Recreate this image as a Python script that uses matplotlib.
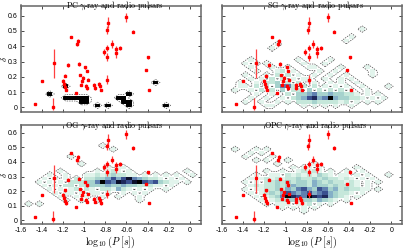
import numpy as np
import matplotlib
matplotlib.use('Agg')
import matplotlib.pyplot as plt
from matplotlib.colors import LinearSegmentedColormap, ListedColormap, Normalize
from matplotlib.ticker import FuncFormatter

plt.rcParams['mathtext.fontset'] = 'cm'
plt.rcParams['font.family'] = ['Liberation Sans', 'DejaVu Sans']

# observed gamma-ray + radio pulsars: log10(P), delta, lower / upper error
logp = [-1.469, -1.400, -1.297, -1.281, -1.200, -1.184, -1.191, -1.181, -1.172,
        -1.156, -1.122, -1.066, -1.056, -1.050, -1.038, -1.031, -1.078, -1.022,
        -1.009, -0.988, -0.972, -0.984, -0.975, -0.963, -0.903, -0.897, -0.863,
        -0.853, -0.844, -0.816, -0.787, -0.778, -0.781, -0.781, -0.781, -0.741,
        -0.703, -0.697, -0.663, -0.600, -0.541, -0.416, -0.394, -0.384]
delta = [0.020, 0.174, 0.005, 0.289, 0.174, 0.207, 0.154, 0.133, 0.115,
         0.278, 0.461, 0.415, 0.433, 0.285, 0.211, 0.148, 0.091, 0.172,
         0.193, 0.261, 0.239, 0.141, 0.126, 0.180, 0.148, 0.128, 0.152,
         0.137, 0.115, 0.365, 0.507, 0.554, 0.387, 0.328, 0.180, 0.415,
         0.354, 0.380, 0.387, 0.589, 0.496, 0.246, 0.328, 0.115]
err_lo = [0.005, 0.005, 0.020, 0.100, 0.010, 0.010, 0.015, 0.010, 0.010,
          0.012, 0.008, 0.015, 0.015, 0.012, 0.005, 0.010, 0.005, 0.010,
          0.010, 0.008, 0.008, 0.010, 0.010, 0.010, 0.012, 0.012, 0.012,
          0.012, 0.008, 0.020, 0.025, 0.035, 0.020, 0.025, 0.030, 0.025,
          0.030, 0.020, 0.012, 0.030, 0.012, 0.005, 0.010, 0.005]
err_hi = [0.005, 0.005, 0.055, 0.090, 0.010, 0.010, 0.015, 0.010, 0.010,
          0.012, 0.008, 0.015, 0.015, 0.012, 0.005, 0.010, 0.005, 0.010,
          0.010, 0.008, 0.008, 0.010, 0.010, 0.010, 0.012, 0.012, 0.012,
          0.012, 0.008, 0.020, 0.025, 0.035, 0.020, 0.025, 0.030, 0.025,
          0.030, 0.020, 0.012, 0.030, 0.012, 0.005, 0.010, 0.005]

# simulated population histograms, bins of 0.05 in log10(P) starting at -1.6
# and 0.025 in delta starting at 0. rows listed from top (high delta) to bottom,
# '.' = empty bin, digit = relative density level
pc_rows = [
    "..... ..... ..... ..... ..... 1.... ....",
    "..... ...1. ..... ..... ..... ..... ....",
    "..... ..... ..... ..... ..... ..... ....",
    "..... 1.... ..... ..... 1.... ..... ....",
    "..... ...11 111.. ...11 ..... ..... ....",
    "..... ..... .11.. ....1 1.... ..... ....",
    "..... ..... ....1 .1... 1.... ..1.. ....",
]

sg_rows = [
    "..... ..... ..... ..... ..... ..... ....",
    "..... ..... ..... ..... ..... .1... ....",
    "..... ..... ..... ..... ..... ..... ....",
    "..... ..... ..... ..... ....1 ..... ....",
    "..... ..... ..... ..... ...1. ..... ....",
    "..... ..... 1.... ..... ..... ..... ....",
    "..... ....1 ..... ..... ..... ..... ....",
    "..... ..... ..... ..... ..... ..... ....",
    "..... ..... ..... ..... ..... ..... ....",
    "..... 1.... ....1 ..... 1.... ..... ....",
    "....1 .1.1. ..... 1...1 ..... ..... ....",
    "..... 1...1 ..1.. .11.. ..1.. ..1.. ....",
    "..... .1... 12.1. ...1. .1... ...1. ....",
    "....1 ...1. 2.2.1 ..1.. 1..1. ...1. ....",
    "..... 1.1.2 .2.1. 11..1 ..1.1 ..... ....",
    "...1. .1.22 3.2.2 ..1.. 1.1.. 1.... ....",
    "...11 .2.2. 3552. 2.2.1 .1.1. .1... .1..",
    "..1.. 1.2.2 .3.22 .3.2. 2.2.1 ..1.. ....",
    "..... .1..1 ..2.3 34533 43322 1.1.1 ....",
    "..... 1..1. .1.23 46745 94332 21.1. 1...",
    "....1 ..1.. 1.1.2 22322 2212. 1.1.1 ....",
    "..... ...11 ..... 1.1.1 .1..1 ..... ....",
]

og_rows = [
    "..... ..... ..... 1.... ..... ..... ....",
    "..... ..... ..... ..1.. ..... ..... ....",
    "..... ..... ..... ..... ..... ..... ....",
    "..... ....1 ..... ..... ..... ..... ....",
    "..... ..... ..... ..... ..... ..... ....",
    "..... ..... .1... ..... ..... ..... ....",
    "..... ..... ..... .1.11 ..... ..... ....",
    "..... ..1.. ....1 .121. 1.... ..... .1..",
    "..... 1..1. ..112 12322 11.1. 1.1.1 ..1.",
    "....1 .1.1. 2.223 34646 85432 21.1. 1...",
    "...1. 1.1.2 22335 96587 68965 63211 .1..",
    "....1 .1.22 .2233 34334 33222 11.1. ....",
    "..... 1.1.1 2.21. 22142 1.1.1 ..1.. ....",
    "..... .1.11 .1.11 .1..1 .1.1. ..... ....",
    "..... ..1.. 1.1.. 1..1. ..1.. ..... ....",
    "..... ...1. .1..1 ..... ..1.. ..... ....",
    ".1.1. ..... ..... ..... ..... ..... ....",
    "..... ..... ..... ..... ..... ..... ....",
    "..... ..... ..... ..... ..... ..... ....",
    "..... ..... ..... ..... ..... ..... ....",
    "..... ..... ..... ..... ..... ..... ....",
]

opc_rows = [
    "..1.. .1.1. ..... ..... ..... ..... ....",
    "..... 1.1.. ..... ..... ..... ..... ....",
    "....1 ....1 ..... ..... ..... ..... ....",
    "..... .1.1. ..1.. ..... ..... ..... ....",
    "..... ..... 1.... ..1.. ..... ..... ....",
    "..... ..... ...1. 11.1. ..... 1.... ....",
    "..... ...1. .1..1 2121. 1..1. .1... ....",
    "..... .1..1 1.212 12132 1.11. 1.1.. .1..",
    "..... 1.121 21223 22323 22121 .1.1. ....",
    "....1 .1.22 32323 32432 32212 1.1.1 ....",
    "..... 12122 32343 32433 23222 1.1.. ....",
    "....1 .1122 32435 64365 34232 211.1 ....",
    "..... 1.123 24654 56456 43221 .1... ....",
    "..... .1.12 35976 59767 4321. 1.... ....",
    "..... ..1.1 22332 33243 21.1. ..... ....",
    "..... ...1. 111.1 12.1. 1.... ..... ....",
    "..... ..... .1.1. 1.1.. ..... ..... ....",
    "..... ..... ..... 1.... ..... ..... ....",
    "..... ..... ..... ..... ..... ..... ....",
    "..... ..... ..... ..... ..... ..... ....",
]

titles = ['PC', 'SG', 'OG', 'OPC']
x_ticks = [-1.6, -1.4, -1.2, -1, -0.8, -0.6, -0.4, -0.2, 0]
y_ticks = [0, 0.1, 0.2, 0.3, 0.4, 0.5, 0.6]

BIN_X0, BIN_DX, BIN_DY = -1.6, 0.05, 0.025


def parse_grid(rows):
    grid = [[0 if c == '.' else int(c) for c in r.replace(' ', '')] for r in rows]
    return np.array(grid[::-1], dtype=float)


def draw_hist(ax, grid, cmap, norm):
    ny, nx = grid.shape
    xe = BIN_X0 + BIN_DX * np.arange(nx + 1)
    ye = BIN_DY * np.arange(ny + 1)
    ax.pcolormesh(xe, ye, np.ma.masked_equal(grid, 0), cmap=cmap, norm=norm,
                  zorder=1)
    # dashed outline around populated bins
    ind = np.pad((grid > 0).astype(float), 1)
    xc = BIN_X0 + BIN_DX * (np.arange(nx + 2) - 0.5)
    yc = BIN_DY * (np.arange(ny + 2) - 0.5)
    ax.contour(xc, yc, ind, levels=[0.15], colors='0.3', linewidths=0.5,
               linestyles=[(0, (2.0, 1.5))], zorder=2)


dens_cmap = LinearSegmentedColormap.from_list(
    'dens', ['#e2f4ec', '#b4e0d0', '#7fa9c6', '#40599a', '#141a48', '#000000'])
black_cmap = ListedColormap(['black'])
norm = Normalize(vmin=1, vmax=9)

fig = plt.figure(figsize=(4.07, 2.5), dpi=100)
boxes = [[0.051, 0.553, 0.442, 0.425], [0.545, 0.553, 0.443, 0.425],
         [0.051, 0.104, 0.442, 0.395], [0.545, 0.104, 0.443, 0.395]]
grids = [pc_rows, sg_rows, og_rows, opc_rows]
fmt = FuncFormatter(lambda v, p: '%g' % round(v, 2))

for k, box in enumerate(boxes):
    ax = fig.add_axes(box)
    grid = parse_grid(grids[k])
    if k == 0:
        draw_hist(ax, grid, black_cmap, Normalize(vmin=0.5, vmax=1.5))
    else:
        draw_hist(ax, grid, dens_cmap, norm)
    ax.errorbar(logp, delta, yerr=[err_lo, err_hi], fmt='s', ms=2.0,
                color='red', mec='red', ecolor='#ff4040', elinewidth=0.9,
                capsize=0, zorder=3)
    ax.set_xlim(-1.6, 0.102)
    if k < 2:
        ax.set_ylim(-0.029, 0.667)
    else:
        ax.set_ylim(-0.026, 0.652)
    ax.set_xticks(x_ticks)
    ax.set_yticks(y_ticks)
    ax.xaxis.set_major_formatter(fmt)
    ax.yaxis.set_major_formatter(fmt)
    ax.tick_params(direction='in', length=2.5, width=0.5, labelsize=5,
                   pad=2.5, top=True, right=True, colors='black')
    if k < 2:
        ax.tick_params(labelbottom=False)
    else:
        ax.set_xlabel(r'$\log_{10}(P\ [s])$', fontsize=7.2, labelpad=0.3)
    if k % 2 == 1:
        ax.tick_params(labelleft=False)
    else:
        ax.text(-0.094, 0.5, r'$\delta$', transform=ax.transAxes,
                rotation=90, ha='center', va='center', fontsize=6.5)
    for sp in ax.spines.values():
        sp.set_color('0.4')
        sp.set_linewidth(1.1)
    ax.text(0.522, 0.975, titles[k] + r' $\gamma$-ray and radio pulsars',
            transform=ax.transAxes, ha='center', va='baseline',
            fontsize=5.8, family='cmr10')

fig.savefig('out.png', dpi=100)
